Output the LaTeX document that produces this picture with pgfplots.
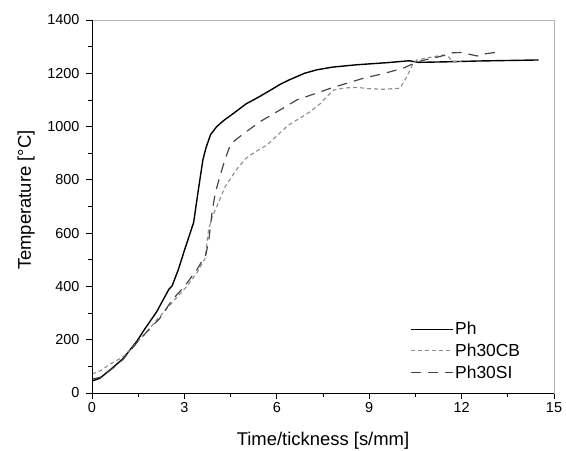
\documentclass[border=0pt]{standalone}
\usepackage{pgfplots}
\pgfplotsset{compat=1.18}
\usepackage{fontspec}
\setmainfont{Liberation Sans}
\definecolor{cbgray}{HTML}{8C8C8C}
\definecolor{sigray}{HTML}{474747}
\begin{document}
\begin{tikzpicture}
\begin{axis}[name=ax,
  scale only axis, width=462bp, height=373bp,
  xmin=0, xmax=15, ymin=0, ymax=1400,
  xtick={0,3,...,15}, ytick={0,200,...,1400},
  minor x tick num=1, minor y tick num=1,
  tick pos=left, tick align=outside,
  major tick length=6bp, minor tick length=3.5bp,
  tick style={black, line width=0.8pt},
  axis line style={draw=gray!60, line width=0.6pt},
  /pgf/number format/assume math mode=true,
  /pgf/number format/set thousands separator={},
  ticklabel style={font=\fontsize{14.5}{17}\selectfont},
  yticklabel style={xshift=-3bp},
  label style={font=\fontsize{18.5}{22}\selectfont},
  xlabel={Time/tickness [s/mm]},
  ylabel={Temperature [°C]},
  xlabel style={at={(axis description cs:0.5,0)}, anchor=base, yshift=-52bp},
  ylabel style={at={(axis description cs:0,0.517)}, anchor=center, yshift=66bp},
  legend style={at={(0.681,0.201)}, anchor=north west, draw=none, fill=none,
    font=\fontsize{17.5}{20}\selectfont, row sep=3.5bp},
  legend cell align=left,
  legend image code/.code={\draw[#1] (0bp,0bp) -- (42bp,0bp);},
]
\addplot[black, line width=1.4pt] coordinates {
(0,45) (0.25,55) (0.6,88) (1.0,128) (1.45,193) (1.7,238) (2.1,305) (2.5,390)
(2.6,402) (2.8,462) (3.0,535) (3.3,640) (3.45,760) (3.6,875) (3.7,920) (3.85,970)
(4.05,1000) (4.3,1025) (4.6,1050) (5.0,1085) (5.4,1110) (5.8,1137) (6.1,1158)
(6.4,1175) (6.9,1200) (7.3,1213) (7.8,1223) (8.6,1232) (9.6,1240) (10.3,1247)
(10.6,1241) (11.5,1243) (12.5,1246) (13.5,1248) (14.5,1250)};
\addlegendentry{Ph}
\addplot[cbgray, line width=1.1pt, dash pattern=on 4bp off 3bp] coordinates {
(0,71) (0.3,85) (0.58,108) (1.0,135) (1.34,174) (1.7,220) (2.1,274) (2.53,330)
(2.8,365) (3.07,399) (3.4,450) (3.67,505) (3.78,610) (3.9,660) (4.05,700)
(4.32,774) (4.7,840) (5.0,881) (5.3,905) (5.67,930) (6.0,965) (6.37,1005)
(6.8,1035) (7.08,1056) (7.4,1085) (7.62,1112) (7.84,1137) (8.2,1145) (8.6,1147)
(9.0,1142) (9.46,1140) (10.0,1144) (10.22,1187) (10.43,1237) (10.55,1250)
(11.07,1262) (11.4,1268) (11.6,1260) (11.67,1245) (12.0,1245)};
\addlegendentry{Ph30CB}
\addplot[sigray, line width=1.2pt, dash pattern=on 10bp off 7bp] coordinates {
(0,52) (0.3,60) (0.7,95) (1.0,125) (1.5,195) (2.2,280) (2.6,349) (3.0,400)
(3.4,462) (3.7,520) (3.8,580) (3.9,680) (4.0,750) (4.15,812) (4.3,870) (4.5,935)
(4.86,968) (5.45,1018) (6.1,1062) (6.65,1100) (7.2,1122) (7.75,1144) (8.8,1181)
(9.5,1200) (10.1,1219) (10.5,1240) (10.8,1250) (11.3,1263) (11.7,1277) (12.0,1278)
(12.5,1265) (12.7,1272) (13.2,1280)};
\addlegendentry{Ph30SI}
\draw[black, line width=1pt] (rel axis cs:0,1) -- (rel axis cs:0,0) -- (rel axis cs:1,0);
\end{axis}
\pgfresetboundingbox
\path ([shift={(-92bp,-58bp)}]ax.south west) rectangle ([shift={(12bp,20bp)}]ax.north east);
\end{tikzpicture}
\end{document}
